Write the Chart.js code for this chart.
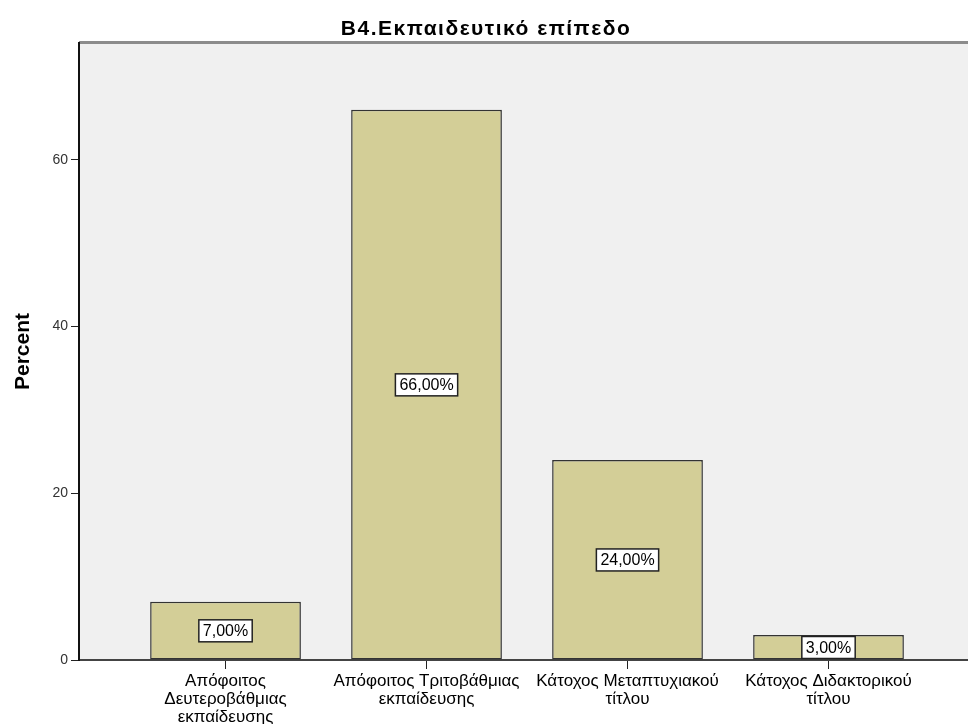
<!DOCTYPE html>
<html>
<head>
<meta charset="utf-8">
<script src="https://cdn.jsdelivr.net/npm/chart.js@4/dist/chart.umd.min.js"></script>
<style>
  html, body { margin: 0; padding: 0; background: #ffffff; }
  #wrap { width: 968px; height: 724px; position: relative; }
</style>
</head>
<body>
<div id="wrap"><canvas id="c"></canvas></div>
<script>
const chartTitle = "B4.Εκπαιδευτικό επίπεδο";
const yAxisTitle = "Percent";
const categories = [
  ["Απόφοιτος", "Δευτεροβάθμιας", "εκπαίδευσης"],
  ["Απόφοιτος Τριτοβάθμιας", "εκπαίδευσης"],
  ["Κάτοχος Μεταπτυχιακού", "τίτλου"],
  ["Κάτοχος Διδακτορικού", "τίτλου"]
];
const percentValues = [7, 66, 24, 3];
const yTicks = [0, 20, 40, 60];
const yMax = 74;

const FONT = "'Liberation Sans', Arial, sans-serif";

const bgPlugin = {
  id: 'bg',
  beforeDraw(chart) {
    const {ctx, chartArea: a} = chart;
    ctx.save();
    ctx.fillStyle = '#f0f0f0';
    ctx.fillRect(a.left, a.top, a.right - a.left, a.bottom - a.top);
    ctx.strokeStyle = '#8c8c8c';
    ctx.lineWidth = 3;
    ctx.beginPath();
    ctx.moveTo(a.left, a.top - 0.5);
    ctx.lineTo(a.right, a.top - 0.5);
    ctx.stroke();
    ctx.restore();
  },
  afterDraw(chart) {
    const {ctx} = chart;
    ctx.save();
    ctx.fillStyle = '#000000';
    ctx.font = "bold 21px " + FONT;
    ctx.textAlign = 'center';
    ctx.textBaseline = 'alphabetic';
    if ('letterSpacing' in ctx) ctx.letterSpacing = '1.5px';
    ctx.fillText(chartTitle, 486, 35);
    ctx.restore();
  }
};

const labelPlugin = {
  id: 'valueLabels',
  afterDatasetsDraw(chart) {
    const {ctx} = chart;
    const meta = chart.getDatasetMeta(0);
    const yScale = chart.scales.y;
    ctx.save();
    ctx.font = "16px " + FONT;
    ctx.textAlign = 'center';
    ctx.textBaseline = 'middle';
    meta.data.forEach((bar, i) => {
      const v = percentValues[i];
      const txt = v.toFixed(2).replace('.', ',') + '%';
      const cx = bar.x;
      const cy = yScale.getPixelForValue(v / 2);
      const w = ctx.measureText(txt).width + 8;
      const h = 22;
      ctx.fillStyle = '#ffffff';
      ctx.fillRect(cx - w / 2, cy - h / 2, w, h);
      ctx.strokeStyle = '#222222';
      ctx.lineWidth = 1.5;
      ctx.strokeRect(cx - w / 2, cy - h / 2, w, h);
      ctx.fillStyle = '#000000';
      ctx.fillText(txt, cx, cy + 1);
    });
    ctx.restore();
  }
};

new Chart(document.getElementById('c'), {
  type: 'bar',
  data: {
    datasets: [{
      data: percentValues.map((v, i) => ({x: i, y: v})),
      backgroundColor: '#d3ce97',
      borderColor: '#333333',
      borderWidth: 1.5,
      borderSkipped: false,
      barPercentage: 0.75,
      categoryPercentage: 1.0
    }]
  },
  options: {
    responsive: true,
    maintainAspectRatio: false,
    animation: false,
    layout: { padding: { left: 0, right: 0, top: 43, bottom: 0 } },
    plugins: {
      legend: { display: false },
      tooltip: { enabled: false },
      title: { display: false }
    },
    scales: {
      x: {
        type: 'linear',
        min: -0.729,
        max: 3.694,
        offset: false,
        afterBuildTicks(scale) { scale.ticks = categories.map((c, i) => ({value: i})); },
        afterFit(scale) { scale.height = 64; },
        border: { display: true, color: '#444444', width: 2 },
        grid: { display: true, drawOnChartArea: false, drawTicks: true, tickLength: 9, color: '#222222', offset: false },
        ticks: {
          autoSkip: false,
          maxRotation: 0,
          minRotation: 0,
          padding: 3,
          color: '#000000',
          font: { family: FONT, size: 17, lineHeight: 1.06 },
          callback(value) { return categories[value] || ''; }
        }
      },
      y: {
        min: 0,
        max: yMax,
        afterBuildTicks(scale) { scale.ticks = yTicks.map(v => ({value: v})); },
        afterFit(scale) { scale.width = 79; },
        border: { display: true, color: '#111111', width: 2 },
        grid: { display: true, drawOnChartArea: false, drawTicks: true, tickLength: 8, color: '#222222' },
        ticks: {
          padding: 3,
          color: '#333333',
          font: { family: FONT, size: 14 }
        },
        title: {
          display: true,
          text: yAxisTitle,
          color: '#000000',
          font: { family: FONT, size: 21, weight: 'bold', lineHeight: 1.2 },
          padding: { top: 11, bottom: 0 }
        }
      }
    }
  },
  plugins: [bgPlugin, labelPlugin]
});
</script>
</body>
</html>
